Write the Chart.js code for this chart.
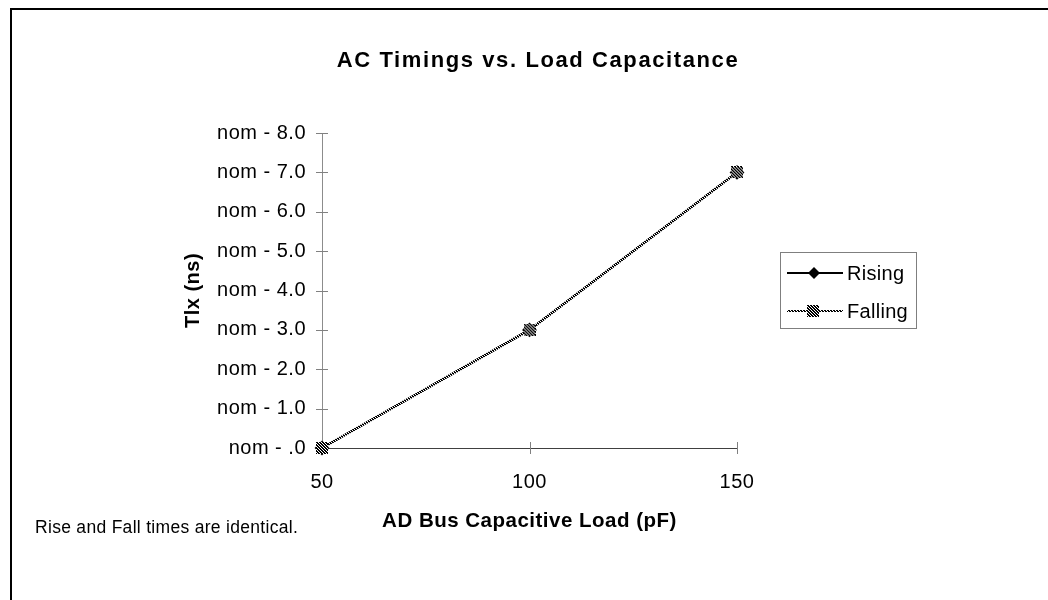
<!DOCTYPE html>
<html>
<head>
<meta charset="utf-8">
<script src="https://cdn.jsdelivr.net/npm/chart.js@4/dist/chart.umd.min.js"></script>
<style>
  html, body { margin: 0; padding: 0; background: #fff; }
  #wrap { width: 1048px; height: 600px; position: relative; }
</style>
</head>
<body>
<div id="wrap"><canvas id="c" width="1048" height="600"></canvas></div>
<script>
// ---- data ----
const chartTitle = 'AC Timings vs. Load Capacitance';
const xTitle = 'AD Bus Capacitive Load (pF)';
const yTitle = 'Tlx (ns)';
const footnote = 'Rise and Fall times are identical.';
const loads = [50, 100, 150];
const rising = [0, 3, 7];
const falling = [0, 3, 7];
const seriesNames = ['Rising', 'Falling'];
const xTickValues = [50, 100, 150];
const yTickLabels = ['nom - .0', 'nom - 1.0', 'nom - 2.0', 'nom - 3.0', 'nom - 4.0',
                     'nom - 5.0', 'nom - 6.0', 'nom - 7.0', 'nom - 8.0'];

// ---- patterns ----
function makeLinePatternCanvas() {
  const c = document.createElement('canvas');
  c.width = 3; c.height = 3;
  const g = c.getContext('2d');
  g.fillStyle = '#000'; g.fillRect(0, 0, 3, 3);
  g.fillStyle = '#fff';
  g.fillRect(0, 0, 1, 1); g.fillRect(1, 1, 1, 1); g.fillRect(2, 2, 1, 1);
  return c;
}
function makeMarker(size) {
  const c = document.createElement('canvas');
  c.width = size; c.height = size;
  const g = c.getContext('2d');
  g.fillStyle = '#fff'; g.fillRect(0, 0, size, size);
  g.fillStyle = '#000';
  for (let y = 0; y < size; y++) {
    for (let x = 0; x < size; x++) {
      if (((x - y) % 3 + 3) % 3 !== 2) g.fillRect(x, y, 1, 1);
    }
  }
  return c;
}
const ctx0 = document.getElementById('c').getContext('2d');
const linePattern = ctx0.createPattern(makeLinePatternCanvas(), 'repeat');
const fallMarker = makeMarker(12);

const FONT = '"Liberation Sans", Arial, Helvetica, sans-serif';

const decor = {
  id: 'decor',
  beforeLayout(chart) { chart.ctx.letterSpacing = '0.5px'; },
  beforeDraw(chart) {
    const ctx = chart.ctx;
    ctx.letterSpacing = '0.5px';
    ctx.save();
    ctx.fillStyle = '#fff';
    ctx.fillRect(0, 0, chart.width, chart.height);
    ctx.restore();
  },
  beforeDatasetsDraw(chart) {
    // tick marks crossing the axes
    const ctx = chart.ctx;
    const xs = chart.scales.x, ys = chart.scales.y;
    ctx.save();
    ctx.strokeStyle = '#808080';
    ctx.lineWidth = 1;
    ys.ticks.forEach(t => {
      const py = Math.round(ys.getPixelForValue(t.value)) + 0.5;
      ctx.beginPath(); ctx.moveTo(xs.left - 6, py); ctx.lineTo(xs.left + 6, py); ctx.stroke();
    });
    xs.ticks.forEach(t => {
      const px = Math.round(xs.getPixelForValue(t.value)) + 0.5;
      ctx.beginPath(); ctx.moveTo(px, ys.bottom - 6); ctx.lineTo(px, ys.bottom + 6); ctx.stroke();
    });
    ctx.restore();
  },
  afterDraw(chart) {
    const ctx = chart.ctx;
    ctx.save();
    // frame
    ctx.strokeStyle = '#000';
    ctx.lineWidth = 2;
    ctx.strokeRect(11, 9, 1100, 700);
    // title
    ctx.fillStyle = '#000';
    ctx.textAlign = 'center';
    ctx.textBaseline = 'middle';
    ctx.letterSpacing = '1.6px';
    ctx.font = 'bold 22px ' + FONT;
    ctx.fillText(chartTitle, 538, 61);
    // footnote
    ctx.letterSpacing = '0.3px';
    ctx.textAlign = 'left';
    ctx.font = '17.5px ' + FONT;
    ctx.fillText(footnote, 35, 528);
    // legend box
    ctx.strokeStyle = '#7f7f7f';
    ctx.lineWidth = 1;
    ctx.strokeRect(780.5, 252.5, 136, 76);
    // Rising entry
    ctx.strokeStyle = '#000';
    ctx.lineWidth = 2;
    ctx.beginPath(); ctx.moveTo(787, 273); ctx.lineTo(843, 273); ctx.stroke();
    ctx.fillStyle = '#000';
    ctx.beginPath();
    ctx.moveTo(814, 267); ctx.lineTo(820, 273); ctx.lineTo(814, 279); ctx.lineTo(808, 273);
    ctx.closePath(); ctx.fill();
    // Falling entry
    ctx.strokeStyle = linePattern;
    ctx.lineWidth = 2;
    ctx.beginPath(); ctx.moveTo(787, 311); ctx.lineTo(843, 311); ctx.stroke();
    ctx.drawImage(fallMarker, 807, 305);
    // legend text
    ctx.fillStyle = '#000';
    ctx.letterSpacing = '0.3px';
    ctx.font = '20px ' + FONT;
    ctx.textBaseline = 'middle';
    ctx.fillText(seriesNames[0], 847, 274);
    ctx.fillText(seriesNames[1], 847, 312);
    ctx.restore();
  }
};

new Chart(ctx0, {
  type: 'line',
  data: {
    datasets: [
      {
        label: seriesNames[0],
        data: loads.map((x, i) => ({ x, y: rising[i] })),
        borderColor: '#000',
        backgroundColor: '#000',
        borderWidth: 2,
        pointStyle: 'rectRot',
        pointRadius: 6,
        order: 1,
        clip: false,
        tension: 0
      },
      {
        label: seriesNames[1],
        data: loads.map((x, i) => ({ x, y: falling[i] })),
        borderColor: linePattern,
        backgroundColor: '#000',
        borderWidth: 2.5,
        pointStyle: fallMarker,
        pointRadius: 6,
        order: 0,
        clip: false,
        tension: 0
      }
    ]
  },
  options: {
    responsive: false,
    animation: false,
    devicePixelRatio: 1,
    layout: { padding: { left: 177, top: 133, right: 311, bottom: 62 } },
    plugins: {
      legend: { display: false },
      title: { display: false },
      tooltip: { enabled: false }
    },
    scales: {
      x: {
        type: 'linear',
        min: 50, max: 150,
        afterFit(s) { s.height = 90; },
        afterBuildTicks(s) { s.ticks = xTickValues.map(v => ({ value: v })); },
        grid: { display: false, drawTicks: false },
        border: { display: true, color: '#404040', width: 1 },
        ticks: {
          padding: 22,
          color: '#000',
          font: { family: FONT, size: 20 }
        },
        title: {
          display: true,
          text: xTitle,
          color: '#000',
          font: { family: FONT, size: 20.5, weight: 'bold' }
        }
      },
      y: {
        type: 'linear',
        min: 0, max: 8,
        afterFit(s) { s.width = 145; },
        grid: { display: false, drawTicks: false },
        border: { display: true, color: '#8c8c8c', width: 1 },
        ticks: {
          stepSize: 1,
          padding: 16,
          color: '#000',
          font: { family: FONT, size: 20 },
          callback: (v) => yTickLabels[Math.round(v)]
        },
        title: {
          display: true,
          text: yTitle,
          color: '#000',
          font: { family: FONT, size: 20, weight: 'bold' }
        }
      }
    }
  },
  plugins: [decor]
});
</script>
</body>
</html>
